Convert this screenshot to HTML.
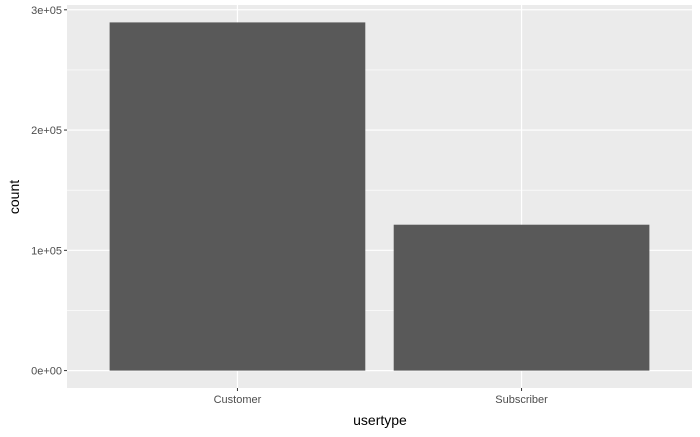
<!DOCTYPE html>
<html><head><meta charset="utf-8"><style>
body{margin:0;background:#fff;}
text{font-family:"Liberation Sans",Arial,sans-serif;}
</style></head><body>
<svg id="chart" width="700" height="432" xmlns="http://www.w3.org/2000/svg">
<rect x="0" y="0" width="700" height="432" fill="#fff"/>
<rect id="panel" x="67" y="5" width="625" height="383" fill="#EBEBEB"/>
<g id="grid"></g>
<g id="bars"></g>
<g id="axes"></g>
<text x="380" y="425" text-anchor="middle" font-size="14" fill="#000">usertype</text>
<text x="0" y="0" transform="translate(19,197) rotate(-90)" text-anchor="middle" font-size="14" fill="#000">count</text>
</svg>
<script>
const categories = ["Customer", "Subscriber"];
const counts = [289500, 121300];
const yTicks = [0, 100000, 200000, 300000];
const yTickLabels = ["0e+00", "1e+05", "2e+05", "3e+05"];
const yMinor = [50000, 150000, 250000];

const NS = "http://www.w3.org/2000/svg";
const px0 = 67, px1 = 692, py0 = 388, py1 = 5;
const maxV = Math.max(...counts);
const yMin = -0.05 * maxV, yMax = maxV * 1.05;
function y(v){ return py0 - (v - yMin) / (yMax - yMin) * (py0 - py1); }
const n = categories.length;
const step = (px1 - px0) / (n - 1 + 1.2);
function x(i){ return px0 + step * (0.6 + i); }

function mk(tag, attrs, parent){
  const e = document.createElementNS(NS, tag);
  for (const k in attrs) e.setAttribute(k, attrs[k]);
  parent.appendChild(e);
  return e;
}
const grid = document.getElementById("grid");
const bars = document.getElementById("bars");
const axes = document.getElementById("axes");

yMinor.forEach(v => {
  const l = mk("line", {x1:px0, x2:px1, y1:y(v), y2:y(v), stroke:"#fff", "stroke-width":0.6}, grid);
  
  
});
yTicks.forEach((v, i) => {
  const l = mk("line", {x1:px0, x2:px1, y1:y(v), y2:y(v), stroke:"#fff", "stroke-width":1.2}, grid);
  
  
  const t = mk("line", {x1:px0-3, x2:px0, y1:y(v), y2:y(v), stroke:"#333", "stroke-width":1}, axes);
  
  
  const tx = mk("text", {x:px0-5, y:y(v)+4, "text-anchor":"end", "font-size":11, fill:"#4D4D4D"}, axes);
  tx.textContent = yTickLabels[i];
  
  
});
categories.forEach((c, i) => {
  const l = mk("line", {x1:x(i), x2:x(i), y1:py1, y2:py0, stroke:"#fff", "stroke-width":1.2}, grid);
  
  
  const w = step * 0.9;
  const b = mk("rect", {x:x(i)-w/2, y:y(counts[i]), width:w, height:y(0)-y(counts[i]), fill:"#595959"}, bars);
  
  
  const t = mk("line", {x1:x(i), x2:x(i), y1:py0, y2:py0+3, stroke:"#333", "stroke-width":1}, axes);
  
  
  const tx = mk("text", {x:x(i), y:py0+15, "text-anchor":"middle", "font-size":11, fill:"#4D4D4D"}, axes);
  tx.textContent = c;
  
  
});
</script>
</body></html>
